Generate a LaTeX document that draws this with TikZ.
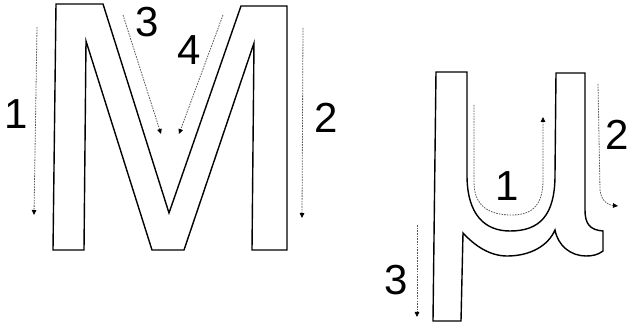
\documentclass[tikz,border=0pt]{standalone}
\usepackage{fontspec}
\setmainfont{Liberation Sans}
\usetikzlibrary{arrows.meta}
\begin{document}
\begin{tikzpicture}[x=1pt,y=-1pt,
  outline/.style={draw=black,line width=1.4pt,line join=miter},
  stroke/.style={draw=black!65,line width=0.8pt,dash pattern=on 1.6pt off 1.1pt,
    -{Triangle[length=5pt,width=4.5pt,black]}},
  num/.style={font=\fontsize{42}{42}\selectfont,inner sep=0pt}]
\useasboundingbox (0,0) rectangle (633,331);
% M
\draw[outline] (56,4) -- (103,4) -- (169,213) -- (241,6) -- (287,6) -- (287,250)
  -- (252,250) -- (254,43) -- (184,250) -- (152,250) -- (86,41) -- (84,250)
  -- (53,250) -- cycle;
\coordinate (m1s) at (37,27);  \coordinate (m1e) at (34,215);
\coordinate (m2s) at (303,28); \coordinate (m2e) at (302,218);
\coordinate (m3s) at (123,15); \coordinate (m3e) at (161,134);
\coordinate (m4s) at (223,15); \coordinate (m4e) at (179,134);
\draw[stroke] (m1s) -- (m1e);
\draw[stroke] (m2s) -- (m2e);
\draw[stroke] (m3s) -- (m3e);
\draw[stroke] (m4s) -- (m4e);
\node[num] (l1) at (16,114) {1};
\node[num] (l2) at (326,118) {2};
\node[num] (l3) at (147,22) {3};
\node[num] (l4) at (189,50) {4};
% mu
\draw[outline] (436,72) -- (467,72) -- (467,175)
  .. controls (467,215) and (485,231) .. (510,231)
  .. controls (540,231) and (555,215) .. (555,175)
  -- (556,73) -- (585,73) -- (585,210)
  .. controls (585,224) and (590,230) .. (603,231)
  -- (603,251)
  .. controls (598,255) and (592,256) .. (586,256)
  .. controls (571,256) and (558,246) .. (555,230)
  .. controls (548,246) and (530,256) .. (507,256)
  .. controls (490,256) and (475,246) .. (463,233)
  -- (461,321) -- (433,321) -- cycle;
\coordinate (u1s) at (474,105); \coordinate (u1e) at (543,117);
\coordinate (u2s) at (598,84);  \coordinate (u2e) at (618,206);
\coordinate (u3s) at (417,225); \coordinate (u3e) at (417,317);
\draw[stroke] (u1s) -- (474,182) .. controls (474,207) and (490,215) .. (512,215)
  .. controls (534,215) and (543,203) .. (543,180) -- (u1e);
\draw[stroke] (u2s) -- (600,190) .. controls (601,200) and (607,205) .. (u2e);
\draw[stroke] (u3s) -- (u3e);
\node[num] (k1) at (507,186) {1};
\node[num] (k2) at (617,135) {2};
\node[num] (k3) at (396,280) {3};
\end{tikzpicture}
\end{document}
